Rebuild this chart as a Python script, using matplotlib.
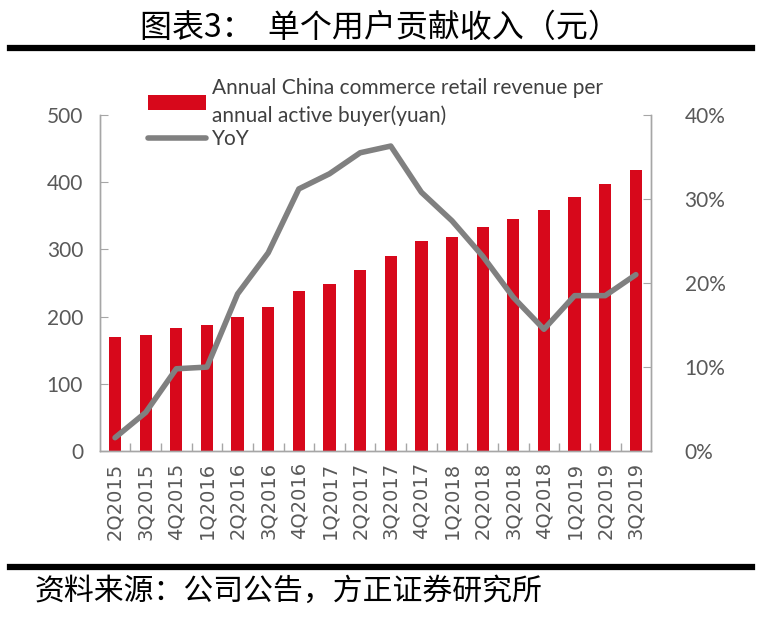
import numpy as np
import matplotlib
matplotlib.use("Agg")
import matplotlib.pyplot as plt
from matplotlib.lines import Line2D
from matplotlib.ticker import FixedLocator, PercentFormatter

quarters = ["2Q2015", "3Q2015", "4Q2015", "1Q2016", "2Q2016", "3Q2016",
            "4Q2016", "1Q2017", "2Q2017", "3Q2017", "4Q2017", "1Q2018",
            "2Q2018", "3Q2018", "4Q2018", "1Q2019", "2Q2019", "3Q2019"]
revenue = [170, 172, 183, 188, 200, 214, 238, 249, 270, 290, 312, 319,
           334, 345, 359, 378, 398, 418]
yoy = [1.6, 4.6, 9.8, 10.0, 18.7, 23.6, 31.2, 33.0, 35.5, 36.3, 30.8, 27.4,
       23.2, 18.3, 14.5, 18.5, 18.5, 21.0]

title = "图表3：  单个用户贡献收入（元）"
source = "资料来源：公司公告，方正证券研究所"
bar_label = "Annual China commerce retail revenue per\nannual active buyer(yuan)"
line_label = "YoY"

red = "#D7081B"
grey_line = "#808080"
tick_grey = "#595959"
spine_grey = "#A6A6A6"

fig = plt.figure(figsize=(7.67, 6.18), dpi=100)
ax = fig.add_axes([0.130, 0.270, 0.719, 0.544])
ax2 = ax.twinx()

x = np.arange(len(quarters))
bars = ax.bar(x, revenue, width=0.4, color=red, label=bar_label, zorder=2)
line, = ax2.plot(x, yoy, color=grey_line, lw=4, solid_joinstyle="round",
                 solid_capstyle="round", label=line_label, zorder=3)

ax.set_xlim(-0.5, len(quarters) - 0.5)
ax.set_ylim(0, 500)
ax2.set_ylim(0, 40)
ax.set_yticks(np.arange(0, 501, 100))
ax2.set_yticks(np.arange(0, 41, 10))
ax2.yaxis.set_major_formatter(PercentFormatter(decimals=0))

ax.set_xticks(x)
ax.set_xticklabels(quarters, rotation=90, fontsize=14, color=tick_grey,
                   family="DejaVu Sans")
ax.xaxis.set_minor_locator(FixedLocator(x[:-1] + 0.5))
ax.tick_params(axis="x", which="major", length=0, pad=8)
ax.tick_params(axis="x", which="minor", direction="in", length=6,
               color=spine_grey, width=1)
ax.tick_params(axis="y", direction="in", length=6, color=spine_grey,
               labelcolor=tick_grey, labelsize=15, pad=12)
ax2.tick_params(axis="y", direction="in", length=6, color=spine_grey,
                labelcolor=tick_grey, labelsize=15, pad=24)
for lab in ax.get_yticklabels() + ax2.get_yticklabels():
    lab.set_family("Lato")

for a in (ax, ax2):
    a.spines["top"].set_visible(False)
    for s in ("left", "right", "bottom"):
        a.spines[s].set_color(spine_grey)
        a.spines[s].set_linewidth(1)

leg = ax.legend([bars, line], [bar_label, line_label], loc="upper left",
                bbox_to_anchor=(0.072, 1.135), frameon=False,
                prop={"family": "Lato", "size": 15}, handlelength=2.8,
                handletextpad=0.3, labelspacing=0.15, borderaxespad=0)
for t in leg.get_texts():
    t.set_color("#404040")
    t.set_linespacing(1.45)

fig.text(0.495, 0.955, title, ha="center", va="center", fontsize=23,
         family=["Noto Sans CJK SC", "DejaVu Sans"], color="black")
fig.add_artist(Line2D([0.013, 0.981], [0.923, 0.923], lw=4.5, color="black"))
fig.add_artist(Line2D([0.013, 0.981], [0.083, 0.083], lw=4.5, color="black"))
fig.text(0.045, 0.043, source, ha="left", va="center", fontsize=21.5,
         family=["Noto Sans CJK SC", "DejaVu Sans"], style="italic",
         color="black")

fig.savefig("out.png", dpi=100)
